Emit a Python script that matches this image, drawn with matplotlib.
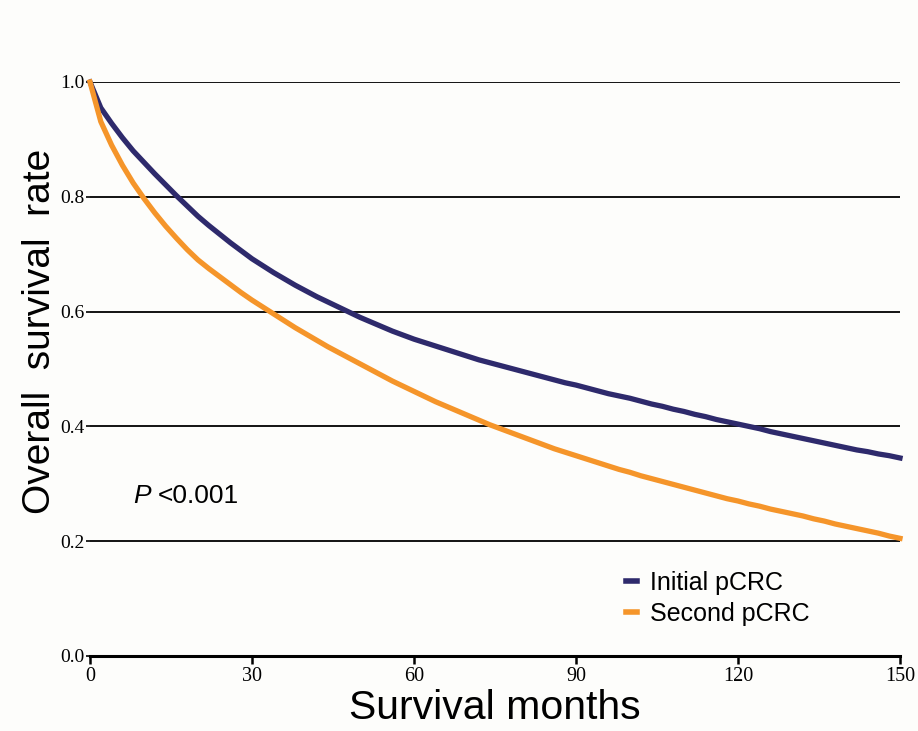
import matplotlib
matplotlib.use("Agg")
import matplotlib.pyplot as plt
import numpy as np

# survival, every 2 months
months = list(range(0, 151, 2))
initial_pcrc = [
    1.000, 0.955, 0.928, 0.903, 0.880, 0.860, 0.840, 0.821, 0.802, 0.784,
    0.766, 0.750, 0.735, 0.720, 0.706, 0.692, 0.680, 0.668, 0.657, 0.646,
    0.636, 0.626, 0.617, 0.608, 0.599, 0.590, 0.582, 0.574, 0.566, 0.559,
    0.552, 0.546, 0.540, 0.534, 0.528, 0.522, 0.516, 0.511, 0.506, 0.501,
    0.496, 0.491, 0.486, 0.481, 0.476, 0.472, 0.467, 0.462, 0.457, 0.453,
    0.449, 0.444, 0.439, 0.435, 0.430, 0.426, 0.421, 0.417, 0.412, 0.408,
    0.404, 0.400, 0.396, 0.391, 0.387, 0.383, 0.379, 0.375, 0.371, 0.367,
    0.363, 0.359, 0.356, 0.352, 0.349, 0.345,
]
second_pcrc = [
    1.000, 0.931, 0.890, 0.855, 0.824, 0.797, 0.772, 0.749, 0.728, 0.708,
    0.690, 0.675, 0.661, 0.647, 0.633, 0.620, 0.608, 0.596, 0.584, 0.572,
    0.561, 0.550, 0.539, 0.529, 0.519, 0.509, 0.499, 0.489, 0.479, 0.470,
    0.461, 0.452, 0.443, 0.435, 0.427, 0.419, 0.411, 0.403, 0.396, 0.389,
    0.382, 0.375, 0.368, 0.361, 0.355, 0.349, 0.343, 0.337, 0.331, 0.325,
    0.320, 0.314, 0.309, 0.304, 0.299, 0.294, 0.289, 0.284, 0.279, 0.274,
    0.270, 0.265, 0.261, 0.256, 0.252, 0.248, 0.244, 0.239, 0.235, 0.230,
    0.226, 0.222, 0.218, 0.214, 0.209, 0.205,
]
series_names = ["Initial pCRC", "Second pCRC"]
x_ticks = [0, 30, 60, 90, 120, 150]
y_ticks = [0.0, 0.2, 0.4, 0.6, 0.8, 1.0]

BLUE = "#2e2a6c"
ORANGE = "#f5952a"
BG = "#fdfdfb"

fig = plt.figure(figsize=(9.18, 7.31), dpi=100, facecolor=BG)
ax = fig.add_axes([90 / 918, 75 / 731, 810 / 918, 574 / 731], facecolor=BG)

for yv in y_ticks[1:]:
    ax.axhline(yv, color="black", lw=1.3, zorder=1)

ax.plot(months, initial_pcrc, color=BLUE, lw=3.8,
        label=series_names[0], clip_on=False, zorder=3)
ax.plot(months, second_pcrc, color=ORANGE, lw=3.8,
        label=series_names[1], clip_on=False, zorder=4)

ax.set_xlim(0, 150)
ax.set_ylim(0, 1.0)
ax.set_xticks(x_ticks)
ax.set_yticks(y_ticks)
ax.set_xticklabels([str(v) for v in x_ticks], family="Liberation Serif", fontsize=14.5)
ax.set_yticklabels([f"{v:.1f}" for v in y_ticks], family="Liberation Serif", fontsize=14)

for s in ["top", "right", "left"]:
    ax.spines[s].set_visible(False)
ax.spines["bottom"].set_linewidth(2.2)
ax.tick_params(axis="x", direction="out", length=6, width=1.8, pad=2)
ax.tick_params(axis="y", direction="out", length=3, width=1.2, pad=1)

ax.set_xlabel("Survival months", family="Liberation Sans", fontsize=29.5, labelpad=2)
ax.set_ylabel("Overall  survival  rate", family="Liberation Sans", fontsize=28)
ax.yaxis.set_label_coords(-0.04, 0.566)

ax.text(8.0, 0.267, "P", family="Liberation Sans", style="italic", fontsize=19)
ax.text(12.6, 0.267, "<0.001", family="Liberation Sans", fontsize=19)

leg = ax.legend(loc="upper left", bbox_to_anchor=(0.634, 0.188), frameon=False,
                handlelength=0.45, handletextpad=0.5, labelspacing=0.28,
                prop={"family": "Liberation Sans", "size": 18})
for h in leg.legend_handles:
    h.set_linewidth(4)

fig.savefig("out.png", dpi=100, facecolor=BG)
